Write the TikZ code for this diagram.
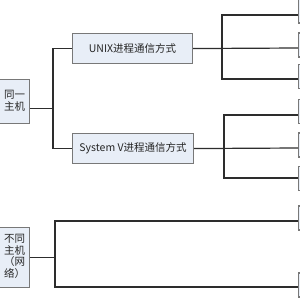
\documentclass[tikz,border=0pt]{standalone}
\usepackage{fontspec}
\newfontfamily\cjk{Noto Sans CJK SC}
\definecolor{boxfill}{RGB}{232,238,247}
\definecolor{boxline}{RGB}{120,120,120}
\definecolor{connline}{RGB}{45,45,45}
\begin{document}
\begin{tikzpicture}[x=1pt,y=-1pt,
  box/.style={draw=boxline, fill=boxfill, line width=1.1pt, inner sep=0pt, anchor=north west,
    font=\cjk\fontsize{10.5}{13}\selectfont, align=center, text=black!85},
  rbox/.style={draw=boxline, fill=boxfill, line width=1.3pt, inner sep=0pt, anchor=west,
    minimum width=30, minimum height=24},
  conn/.style={draw=connline, line width=1.2pt}]
\useasboundingbox (0,0) rectangle (300,300);
\fill[white] (0,0) rectangle (300,300);

% left boxes
\node[box, minimum width=30, minimum height=44] (same) at (-1,79)
  {\raisebox{-7pt}{\begin{tabular}{@{}c@{}}同一\\[-1pt]主机\end{tabular}}};
\node[box, minimum width=30, minimum height=60] (diff) at (-1,227)
  {\begin{tabular}{@{}c@{}}不同\\[-1.5pt]主机\\[-1.5pt]（网\\[-1.5pt]络）\end{tabular}};

% middle boxes
\node[box, minimum width=120, minimum height=30] (unix) at (72,33) {UNIX进程通信方式};
\node[box, minimum width=121, minimum height=30] (sysv) at (72,133) {System V进程通信方式};

% right boxes (cut by the edge)
\node[rbox] (r1) at (298,11) {};
\node[rbox] (r2) at (298,45) {};
\node[rbox] (r3) at (298,76.5) {};
\node[rbox] (r4) at (298,111.5) {};
\node[rbox] (r5) at (298,145) {};
\node[rbox] (r6) at (298,178.5) {};
\node[rbox] (r7) at (298,218) {};
\node[rbox] (r8) at (298,285) {};

% connectors: left level
\draw[conn] ([yshift=-7pt]same.east) -- ++(24,0);
\draw[conn] (unix.west) -- ++(-19,0) |- (sysv.west);

% UNIX group
\draw[conn] (unix.east) -- ([yshift=-3pt]r2.west);
\draw[conn] ([yshift=-4pt]r1.west) -- ++(-76,0) |- ([yshift=-2.5pt]r3.west);

% System V group
\draw[conn] (sysv.east) -- ([yshift=-3pt]r5.west);
\draw[conn] ([yshift=-3.5pt]r4.west) -- ++(-74,0) |- ([yshift=0.5pt]r6.west);

% network group
\draw[conn] (diff.east) -- ++(26,0);
\draw[conn] ([yshift=-3pt]r7.west) -- ++(-243,0) |- ([yshift=-2pt]r8.west);
\end{tikzpicture}
\end{document}
